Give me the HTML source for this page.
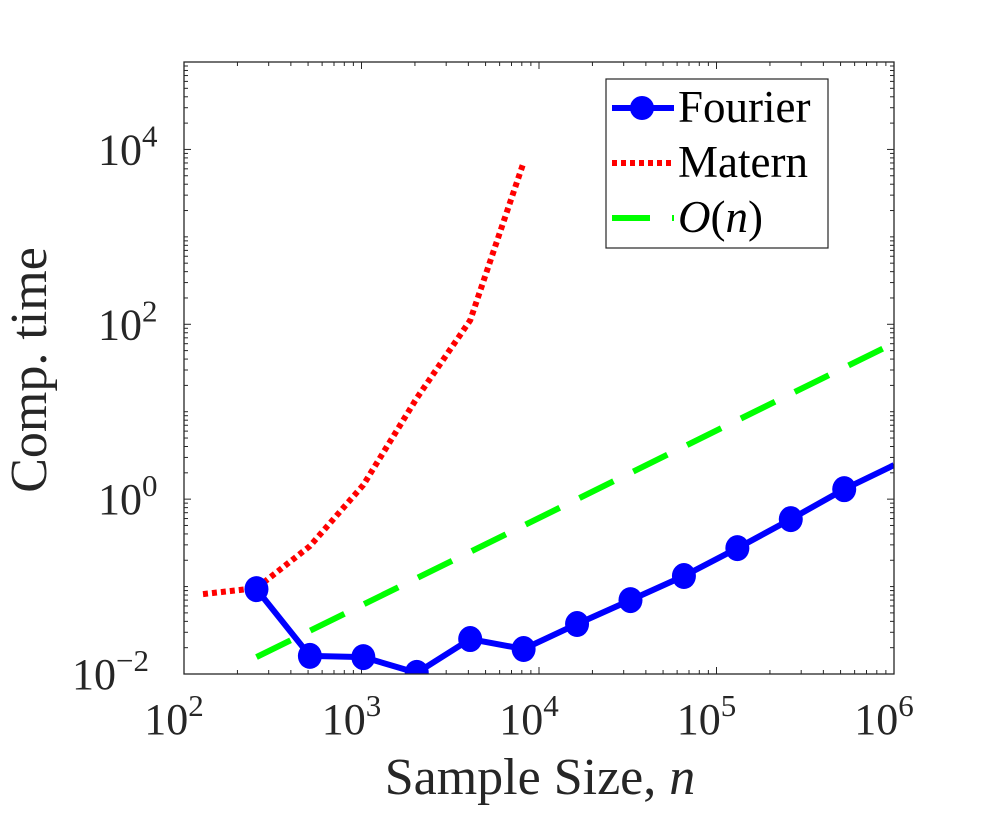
<!DOCTYPE html>
<html><head><meta charset="utf-8"><style>
body{margin:0;background:#fff;}
svg{display:block;font-family:"Liberation Serif",serif;}
</style></head><body>
<svg id="chart" width="988" height="816" viewBox="0 0 988 816">
<defs><clipPath id="clip"><rect x="184" y="62" width="710" height="612"/></clipPath></defs>
<rect x="0" y="0" width="988" height="816" fill="#fff"/>
<g id="ticks"></g>
<g id="marks" clip-path="url(#clip)"></g>
<rect x="184" y="62" width="710" height="612" fill="none" stroke="#262626" stroke-width="1.3"/>
<g id="labels"></g>
<text x="540" y="794" font-size="52" text-anchor="middle" fill="#262626">Sample Size, <tspan font-style="italic">n</tspan></text>
<text transform="translate(46,370) rotate(-90)" font-size="52" text-anchor="middle" fill="#262626">Comp. time</text>
<g>
<rect x="606" y="79" width="222" height="169" fill="#fff" stroke="#262626" stroke-width="1.2"/>
<g>
<line x1="612" y1="108" x2="674" y2="108" stroke="#0000ff" stroke-width="6"/>
<circle cx="642" cy="108" r="12" fill="#0000ff"/>
<text x="678" y="122" font-size="45" fill="#000">Fourier</text></g>
<g>
<line x1="612" y1="163" x2="674" y2="163" stroke="#ff0000" stroke-width="6" stroke-dasharray="5,4"/>
<text x="678" y="177" font-size="45" fill="#000">Matern</text></g>
<g>
<line x1="612" y1="218" x2="650" y2="218" stroke="#00ff00" stroke-width="6"/>
<line x1="672" y1="218" x2="674" y2="218" stroke="#00ff00" stroke-width="6"/>
<text x="678" y="232" font-size="45" fill="#000" font-style="italic">O<tspan font-style="normal">(</tspan>n<tspan font-style="normal">)</tspan></text></g>
</g>
</svg>
<script>
const fourierN = [256,512,1024,2048,4096,8192,16384,32768,65536,131072,262144,524288,1000000];
const fourierT = [0.0935,0.0161,0.0156,0.0103,0.0251,0.0193,0.0373,0.070,0.132,0.275,0.59,1.30,2.45];
const maternN = [128,256,512,1024,2048,4096,8192];
const maternT = [0.082,0.096,0.29,1.45,14.3,111,7100];
const onN = [256,1000000];
const onT = [0.0156,61];
const xTickExp = [2,3,4,5,6];
const yTickExp = [-2,0,2,4];
const X0=184,X1=894,Y0=674,Y1=62,XMIN=2,XMAX=6,YMIN=-2,YMAX=5;
const NS='http://www.w3.org/2000/svg';
function xs(v){return X0+(Math.log10(v)-XMIN)/(XMAX-XMIN)*(X1-X0);}
function ys(v){return Y0-(Math.log10(v)-YMIN)/(YMAX-YMIN)*(Y0-Y1);}
function mk(t,a,p){const e=document.createElementNS(NS,t);for(const k in a)e.setAttribute(k,a[k]);p.appendChild(e);return e;}
const marks=document.getElementById('marks'),ticks=document.getElementById('ticks'),labels=document.getElementById('labels');
function pts(N,T){return N.map((n,i)=>xs(n).toFixed(1)+','+ys(T[i]).toFixed(1)).join(' ');}
let l=mk('polyline',{points:pts(onN,onT),fill:'none',stroke:'#00ff00','stroke-width':6,'stroke-dasharray':'38,22'},marks);


l=mk('polyline',{points:pts(maternN,maternT),fill:'none',stroke:'#ff0000','stroke-width':6,'stroke-dasharray':'5,4'},marks);


l=mk('polyline',{points:pts(fourierN,fourierT),fill:'none',stroke:'#0000ff','stroke-width':6,'stroke-linejoin':'round'},marks);


fourierN.forEach((n,i)=>{if(n>=1e6)return;const c=mk('ellipse',{cx:xs(n),cy:ys(fourierT[i]),rx:12,ry:13,fill:'#0000ff'},marks);

});
for(let e=XMIN;e<XMAX;e++)for(let m=1;m<10;m++){const x=xs(m*Math.pow(10,e));const L=m==1?7:4;
mk('line',{x1:x,y1:Y0,x2:x,y2:Y0-L,stroke:'#262626','stroke-width':1},ticks);mk('line',{x1:x,y1:Y1,x2:x,y2:Y1+L,stroke:'#262626','stroke-width':1},ticks);}
for(let e=YMIN;e<YMAX;e++)for(let m=1;m<10;m++){const y=ys(m*Math.pow(10,e));const L=(m==1&&e%2==0)?7:4;
mk('line',{x1:X0,y1:y,x2:X0+L,y2:y,stroke:'#262626','stroke-width':1},ticks);mk('line',{x1:X1,y1:y,x2:X1-L,y2:y,stroke:'#262626','stroke-width':1},ticks);}
xTickExp.forEach(e=>{const t=mk('text',{x:xs(Math.pow(10,e))-10,y:734,'font-size':44,'text-anchor':'middle',fill:'#262626'},labels);
t.innerHTML='10<tspan dy="-18" font-size="31">'+e+'</tspan>';

});
yTickExp.forEach(e=>{const t=mk('text',{x:98,y:ys(Math.pow(10,e))+15,'font-size':44,fill:'#262626'},labels);
if(e<0)t.setAttribute('x',72);
t.innerHTML='10<tspan dy="-18" font-size="31">'+(e<0?'\u2212'+(-e):e)+'</tspan>';

});
</script>
</body></html>
